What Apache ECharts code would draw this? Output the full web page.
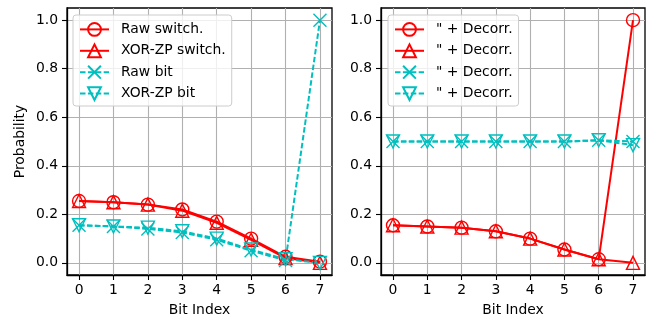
<!DOCTYPE html>
<html><head><meta charset="utf-8">
<script src="https://cdn.jsdelivr.net/npm/echarts@6/dist/echarts.min.js"></script>
<style>html,body{margin:0;padding:0;background:#fff}#c{width:658px;height:324px}</style>
</head><body><div id="c"></div>
<script>
const bitIndex = [0, 1, 2, 3, 4, 5, 6, 7];
const xTicks = [0, 1, 2, 3, 4, 5, 6, 7];
const yTicks = [0, 0.2, 0.4, 0.6, 0.8, 1.0];

// Left panel
const rawSwitch   = [0.255, 0.250, 0.240, 0.220, 0.170, 0.100, 0.025, 0.005];
const xorSwitch   = [0.255, 0.250, 0.240, 0.215, 0.165, 0.095, 0.020, 0.000];
const rawBit      = [0.155, 0.150, 0.140, 0.125, 0.095, 0.050, 0.010, 1.000];
const xorBit      = [0.155, 0.150, 0.145, 0.130, 0.100, 0.055, 0.015, 0.000];
// Right panel (+ Decorr.)
const rawSwitchD  = [0.155, 0.150, 0.145, 0.130, 0.100, 0.055, 0.015, 1.000];
const xorSwitchD  = [0.155, 0.150, 0.145, 0.130, 0.100, 0.055, 0.015, 0.000];
const rawBitD     = [0.500, 0.500, 0.500, 0.500, 0.500, 0.500, 0.505, 0.500];
const xorBitD     = [0.500, 0.500, 0.500, 0.500, 0.500, 0.500, 0.505, 0.485];

const leftLabels  = ['Raw switch.', 'XOR-ZP switch.', 'Raw bit', 'XOR-ZP bit'];
const rightLabels = ['" + Decorr.', '" + Decorr.', '" + Decorr.', '" + Decorr.'];

const RED = '#ff0000', CYAN = '#00bfbf';
const SYM_X = 'path://M0,0L10,10M10,0L0,10';
const SYM_DOWN = 'path://M0,0L10,0L5,9Z';
const styles = [
  {color: RED, symbol: 'circle', dash: 'solid'},
  {color: RED, symbol: 'triangle', dash: 'solid'},
  {color: CYAN, symbol: SYM_X, dash: [5.5, 2.4]},
  {color: CYAN, symbol: SYM_DOWN, dash: [5.5, 2.4]}
];
const FONT = 'DejaVu Sans';

function mkSeries(id, arr, st, gi) {
  return {
    type: 'line', name: id, xAxisIndex: gi, yAxisIndex: gi,
    data: bitIndex.map((b, i) => [b, arr[i]]),
    symbol: st.symbol, symbolSize: 13,
    lineStyle: {color: st.color, width: 2, type: st.dash},
    itemStyle: {color: 'rgba(0,0,0,0)', borderColor: st.color, borderWidth: 1.4},
    emphasis: {disabled: true}, animation: false
  };
}

const nameMap = {};
const series = [];
[rawSwitch, xorSwitch, rawBit, xorBit].forEach((a, i) => {
  const id = 'L' + i; nameMap[id] = leftLabels[i];
  series.push(mkSeries(id, a, styles[i], 0));
});
[rawSwitchD, xorSwitchD, rawBitD, xorBitD].forEach((a, i) => {
  const id = 'R' + i; nameMap[id] = rightLabels[i];
  series.push(mkSeries(id, a, styles[i], 1));
});

function xAx(gi) {
  return {
    type: 'value', gridIndex: gi, min: -0.35, max: 7.35,
    name: 'Bit Index', nameLocation: 'middle', nameGap: 28,
    nameTextStyle: {fontFamily: FONT, fontSize: 13.9, color: '#000'},
    axisLine: {show: true, onZero: false, lineStyle: {color: '#000', width: 1.3}},
    axisTick: {show: true, length: 5, customValues: xTicks, lineStyle: {color: '#000', width: 1.1}},
    axisLabel: {customValues: xTicks, margin: 8, fontFamily: FONT, fontSize: 13.9, color: '#000'},
    splitLine: {show: true, lineStyle: {color: '#b0b0b0', width: 1.1}}
  };
}
function yAx(gi, withName) {
  return {
    type: 'value', gridIndex: gi, min: -0.05, max: 1.05,
    name: withName ? 'Probability' : '', nameLocation: 'middle', nameGap: 40,
    nameTextStyle: {fontFamily: FONT, fontSize: 13.9, color: '#000'},
    axisLine: {show: true, onZero: false, lineStyle: {color: '#000', width: 1.3}},
    axisTick: {show: true, length: 5, customValues: yTicks, lineStyle: {color: '#000', width: 1.1}},
    axisLabel: {customValues: yTicks, margin: 9, fontFamily: FONT, fontSize: 13.9, color: '#000',
      formatter: v => v.toFixed(1)},
    splitLine: {show: true, lineStyle: {color: '#b0b0b0', width: 1.1}}
  };
}
function legend(ids, left) {
  return {
    data: ids, orient: 'vertical', left: left, top: 15,
    padding: [7, 6, 5, 6], itemWidth: 29, itemHeight: 16, itemGap: 6.6,
    backgroundColor: 'rgba(255,255,255,0.8)', borderColor: '#cccccc', borderWidth: 1, borderRadius: 3,
    textStyle: {fontFamily: FONT, fontSize: 13.9, color: '#000', padding: [0, 0, 0, 7]},
    formatter: n => nameMap[n], selectedMode: false
  };
}

const chart = echarts.init(document.getElementById('c'), null, {renderer: 'canvas'});
chart.setOption({
  animation: false,
  grid: [
    {left: 67, top: 8, width: 265, height: 267, show: true, borderColor: '#000', borderWidth: 1.3, backgroundColor: 'transparent'},
    {left: 381, top: 8, width: 264, height: 267, show: true, borderColor: '#000', borderWidth: 1.3, backgroundColor: 'transparent'}
  ],
  xAxis: [xAx(0), xAx(1)],
  yAxis: [yAx(0, true), yAx(1, false)],
  legend: [legend(['L0','L1','L2','L3'], 73), legend(['R0','R1','R2','R3'], 388)],
  series: series
});
</script></body></html>
